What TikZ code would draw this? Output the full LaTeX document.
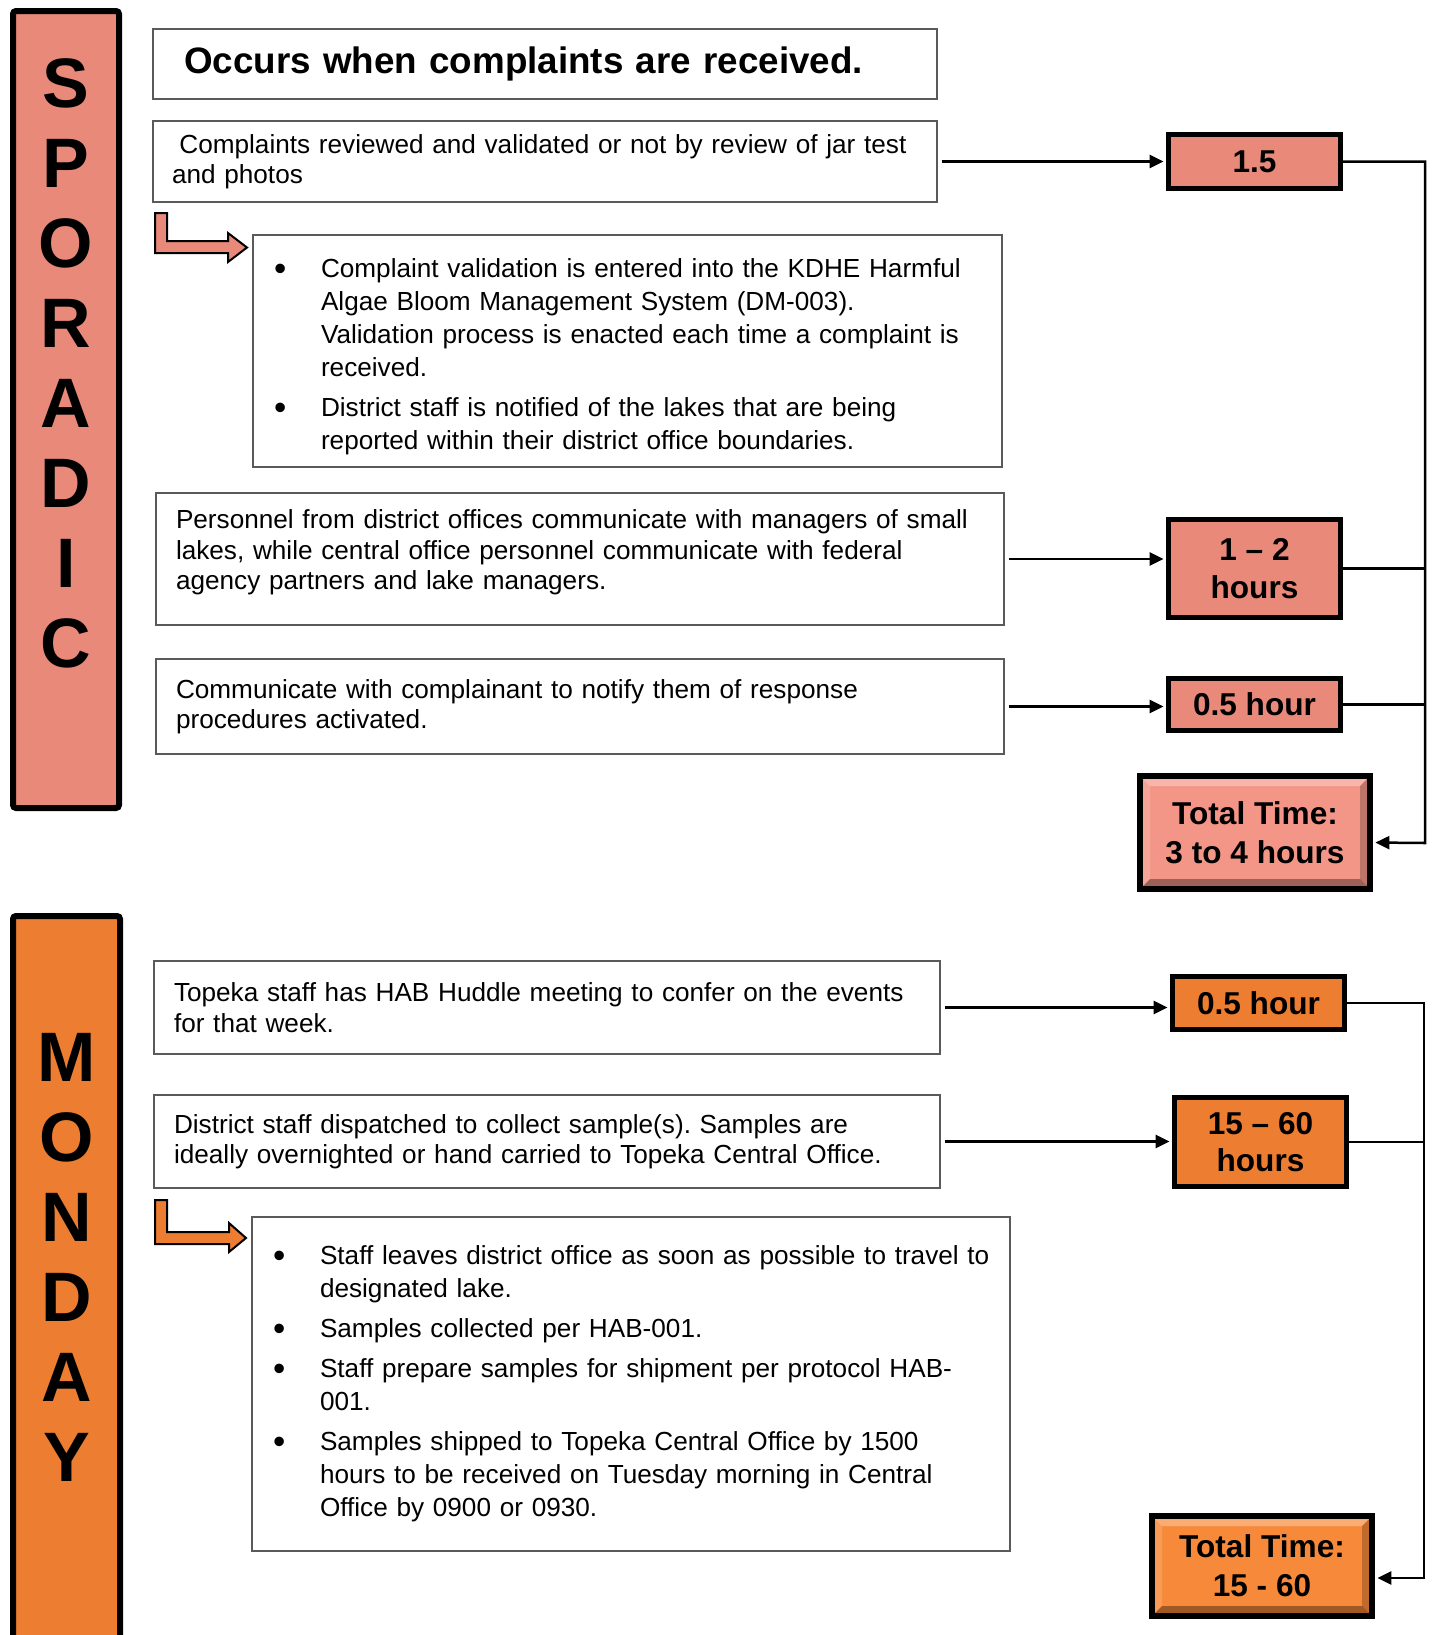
\documentclass[tikz,border=0pt]{standalone}
\usepackage{fontspec}
\setmainfont{Liberation Sans}
\usepackage{array}
\usetikzlibrary{arrows.meta}
\definecolor{sporadic}{RGB}{232,137,122}
\definecolor{sporadiclight}{RGB}{244,150,135}
\definecolor{monday}{RGB}{237,125,49}
\definecolor{mondaylight}{RGB}{247,138,58}
\definecolor{boxline}{RGB}{90,90,90}
\newcommand{\bigdot}{\raisebox{-1.6pt}{\fontsize{17.5}{17.5}\selectfont\textbullet}}
\frenchspacing

\tikzset{
    daybar/.style={draw=black, line width=3pt, rounded corners=1.5pt, inner sep=0pt},
    dayletters/.style={font=\fontsize{35}{40}\selectfont\bfseries, align=center, inner sep=0pt},
    stepbox/.style={draw=boxline, line width=0.7pt, align=left, inner ysep=0pt, font=\fontsize{13.08}{15.2}\selectfont},
    bulletbox/.style={draw=boxline, line width=0.7pt, align=left, inner xsep=10.5pt, inner ysep=0pt, font=\fontsize{13.08}{16.5}\selectfont},
    timebox/.style={draw=black, line width=2.5pt, minimum width=86pt, align=center, inner sep=0pt, font=\fontsize{15.8}{18.8}\selectfont\bfseries},
    totalbox/.style={draw=black, line width=3pt, align=center, inner sep=0pt, font=\fontsize{15.8}{19.5}\selectfont\bfseries,
        path picture={
            \fill[white, opacity=0.3] (path picture bounding box.north west) -- (path picture bounding box.north east) -- ([shift={(-5pt,-5pt)}]path picture bounding box.north east) -- ([shift={(5pt,-5pt)}]path picture bounding box.north west) -- cycle;
            \fill[white, opacity=0.15] (path picture bounding box.north west) -- (path picture bounding box.south west) -- ([shift={(5pt,5pt)}]path picture bounding box.south west) -- ([shift={(5pt,-5pt)}]path picture bounding box.north west) -- cycle;
            \fill[black, opacity=0.35] (path picture bounding box.south west) -- (path picture bounding box.south east) -- ([shift={(-5pt,5pt)}]path picture bounding box.south east) -- ([shift={(5pt,5pt)}]path picture bounding box.south west) -- cycle;
            \fill[black, opacity=0.22] (path picture bounding box.north east) -- (path picture bounding box.south east) -- ([shift={(-5pt,5pt)}]path picture bounding box.south east) -- ([shift={(-5pt,-5pt)}]path picture bounding box.north east) -- cycle;
        }},
    feed/.style={line width=1.25pt, -{Triangle[length=7pt,width=6.5pt]}, shorten >=1.2pt},
    bus/.style={line width=1.25pt},
    elbow/.style={draw=black, line width=1pt, line join=miter}
}

\begin{document}
\begin{tikzpicture}[x=0.5pt, y=-0.5pt]
                \useasboundingbox (0,0) rectangle (1436,1635);

                \node[daybar, fill=sporadic, minimum width=53pt, minimum height=398.5pt] (sbar) at (66,409.5) {};
                \node[dayletters] (sname) at (66,363) {S\\P\\O\\R\\A\\D\\I\\C};
                \node[daybar, fill=monday, minimum width=53.5pt, minimum height=392pt] (mbar) at (66.5,1308) {};
                \node[dayletters] (mname) at (66.5,1257) {M\\O\\N\\D\\A\\Y};

                \node[stepbox, inner xsep=15.5pt, text width=361pt, minimum height=35pt, font=\fontsize{18.4}{21}\selectfont\bfseries] (occ) at (545,64) {Occurs when complaints are received.};
                \node[stepbox, inner xsep=9.5pt, text width=373pt, minimum height=40.5pt] (s1) at (545,161.5) {\hspace{3.7pt}Complaints reviewed and validated or not by review of jar test\\and photos};
                \node[bulletbox, text width=353.5pt, minimum height=116pt] (b1) at (627.5,351) {%
                    \begin{tabular}{@{}p{23.5pt}@{}l@{}}
                    \noalign{\vskip 6pt}
                    \bigdot & Complaint validation is entered into the KDHE Harmful\\
                    & Algae Bloom Management System (DM-003).\\
                    & Validation process is enacted each time a complaint is\\
                    & received.\\[3.5pt]
                    \bigdot & District staff is notified of the lakes that are being\\
                    & reported within their district office boundaries.
                    \end{tabular}};
                \node[stepbox, inner xsep=10pt, text width=404pt, minimum height=66pt] (s2) at (580,559) {%
                    \begin{tabular}{@{}l@{}}
                    Personnel from district offices communicate with managers of small\\
                    lakes, while central office personnel communicate with federal\\
                    agency partners and lake managers.\\
                    \noalign{\vskip 6pt}
                    \end{tabular}};
                \node[stepbox, inner xsep=10pt, text width=404pt, minimum height=47.5pt] (s3) at (580,706.5) {Communicate with complainant to notify them of response\\procedures activated.};

                \node[timebox, fill=sporadic, minimum height=27pt] (t1) at (1254.5,161.5) {1.5};
                \node[timebox, fill=sporadic, minimum height=49pt] (t2) at (1254.5,568.5) {1 – 2\\hours};
                \node[timebox, fill=sporadic, minimum height=26pt] (t3) at (1254.5,704.5) {0.5 hour};
                \node[totalbox, fill=sporadiclight, minimum width=115pt, minimum height=56.5pt] (tot1) at (1255,832.5) {Total Time:\\3 to 4 hours};

                \filldraw[fill=sporadic, elbow] (155,213) -- (167,213) -- (167,241) -- (228,241) -- (228,233) -- (247,247.5) -- (228,262) -- (228,253) -- (155,253) -- cycle;

                \draw[feed, shorten <=2pt] (s1.east) -- (s1.east -| t1.west);
                \draw[feed, shorten <=2pt] (s2.east) -- (s2.east -| t2.west);
                \draw[feed, shorten <=2pt] (s3.east) -- (s3.east -| t3.west);
                \coordinate (sbus) at (1425,843);
                \draw[feed] (t1.east) -| (sbus) -- ([yshift=-5pt]tot1.east);
                \draw[bus] (t2.east) -- (t2.east -| sbus);
                \draw[bus] (t3.east) -- (t3.east -| sbus);

                \node[stepbox, inner xsep=10pt, text width=373pt, minimum height=46.5pt] (s4) at (547,1007.5) {Topeka staff has HAB Huddle meeting to confer on the events\\for that week.};
                \node[stepbox, inner xsep=10pt, text width=373pt, minimum height=46.5pt] (s5) at (547,1141.5) {District staff dispatched to collect sample(s). Samples are\\ideally overnighted or hand carried to Topeka Central Office.};
                \node[bulletbox, text width=358pt, minimum height=167pt] (b2) at (631,1384) {%
                    \begin{tabular}{@{}p{23.5pt}@{}l@{}}
                    \bigdot & Staff leaves district office as soon as possible to travel to\\
                    & designated lake.\\[3.5pt]
                    \bigdot & Samples collected per HAB-001.\\[3.5pt]
                    \bigdot & Staff prepare samples for shipment per protocol HAB-\\
                    & 001.\\[3.5pt]
                    \bigdot & Samples shipped to Topeka Central Office by 1500\\
                    & hours to be received on Tuesday morning in Central\\
                    & Office by 0900 or 0930.
                    \end{tabular}};

                \node[timebox, fill=monday, minimum height=26.5pt] (t4) at (1258.5,1003) {0.5 hour};
                \node[timebox, fill=monday, minimum height=44.5pt] (t5) at (1260.5,1142) {15 – 60\\hours};
                \node[totalbox, fill=mondaylight, minimum width=110pt, minimum height=50pt] (tot2) at (1262,1566) {Total Time:\\15 - 60};

                \filldraw[fill=monday, elbow] (155,1200) -- (167,1200) -- (167,1232) -- (229,1232) -- (229,1223) -- (246,1238) -- (229,1252) -- (229,1244) -- (155,1244) -- cycle;

                \draw[feed, shorten <=2pt] (s4.east) -- (s4.east -| t4.west);
                \draw[feed, shorten <=2pt] (s5.east) -- (s5.east -| t5.west);
                \coordinate (mbus) at (1424,1578);
                \draw[feed] (t4.east) -| (mbus) -- ([yshift=-6pt]tot2.east);
                \draw[bus] (t5.east) -- (t5.east -| mbus);
\end{tikzpicture}
\end{document}
